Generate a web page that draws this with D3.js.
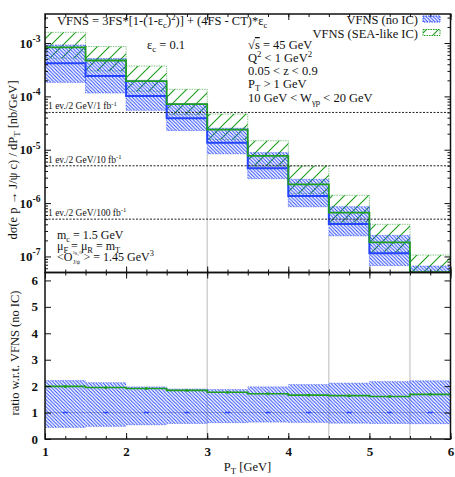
<!DOCTYPE html>
<html>
<head>
<meta charset="utf-8">
<script src="https://cdn.jsdelivr.net/npm/d3@7"></script>
<style>
  body { margin: 0; background: #fff; }
  text { font-family: "Liberation Serif", "DejaVu Serif", serif; fill: #111; }
</style>
</head>
<body>
<div id="chart"></div>
<script>
// P_T bins [GeV]
const binLo = [1, 1.5, 2, 2.5, 3, 3.5, 4, 4.5, 5, 5.5];
const binHi = [1.5, 2, 2.5, 3, 3.5, 4, 4.5, 5, 5.5, 6];

// VFNS (no IC), central value and scale band [nb/GeV]
const noIC     = [4.16e-4, 2.41e-4, 1.015e-4, 3.88e-5, 1.353e-5, 4.48e-6, 1.356e-6, 4.05e-7, 1.143e-7, 3.0e-8];
const noICLow  = [1.83e-4, 1.157e-4, 5.48e-5, 2.29e-5, 8.39e-6, 2.87e-6, 8.54e-7, 2.43e-7, 6.74e-8, 1.74e-8];
const noICHigh = [9.19e-4, 5.13e-4, 2.0e-4, 7.33e-5, 2.53e-5, 8.83e-6, 2.79e-6, 8.55e-7, 2.48e-7, 6.6e-8];

// VFNS (SEA-like IC)
const seaIC     = [8.28e-4, 4.70e-4, 1.94e-4, 7.14e-5, 2.39e-5, 7.66e-6, 2.25e-6, 6.64e-7, 1.84e-7, 5.07e-8];
const seaICLow  = [5.2e-4, 3.0e-4, 1.25e-4, 4.6e-5, 1.55e-5, 5.0e-6, 1.5e-6, 4.4e-7, 1.2e-7, 3.3e-8];
const seaICHigh = [1.587e-3, 8.6e-4, 3.71e-4, 1.356e-4, 4.67e-5, 1.475e-5, 4.95e-6, 1.40e-6, 4.0e-7, 1.062e-7];

// 1 event / 2 GeV lines
const lumiValues = [5e-5, 5e-6, 5e-7];
const lumiLabels = ["1 ev./2 GeV/1 fb", "1 ev./2 GeV/10 fb", "1 ev./2 GeV/100 fb"];

// grey vertical markers
const markerPT = [3, 4.5, 5.5];

const xTicks = [1, 2, 3, 4, 5, 6];
const decades = [-7, -6, -5, -4, -3];
const ratioTicks = [0, 1, 2, 3, 4, 5, 6];

const W = 455, H = 477;
const left = 45, right = 450.5;
const topY = 14, midY = 272.5, botY = 439;

const blue = "#2444ff", green = "#1f9f1f";

const svg = d3.select("#chart").append("svg")
    .attr("width", W).attr("height", H);

const defs = svg.append("defs");

// hatch patterns
defs.append("pattern").attr("id", "hatchBlue")
    .attr("patternUnits", "userSpaceOnUse").attr("width", 3.5).attr("height", 3.5)
  .append("path")
    .attr("d", "M-1,-1 L4.5,4.5 M-1,2.5 L1,4.5 M2.5,-1 L4.5,1")
    .attr("stroke", blue).attr("stroke-width", 1);

defs.append("pattern").attr("id", "hatchGreen")
    .attr("patternUnits", "userSpaceOnUse").attr("width", 12).attr("height", 12)
  .append("path")
    .attr("d", "M-3,15 L15,-3 M-3,3 L3,-3 M9,15 L15,9")
    .attr("stroke", green).attr("stroke-width", 1.15);

defs.append("clipPath").attr("id", "clipTop")
  .append("rect").attr("x", left).attr("y", topY).attr("width", right - left).attr("height", midY - topY);
defs.append("clipPath").attr("id", "clipBot")
  .append("rect").attr("x", left).attr("y", midY).attr("width", right - left).attr("height", botY - midY);

// scales
const x = d3.scaleLinear().domain([1, 6]).range([left, right]);
const y = d3.scaleLog().domain([5e-8, 3.5e-3]).range([midY, topY]);
const yr = d3.scaleLinear().domain([0, 6.3]).range([botY, midY]);

const bins = binLo.map((lo, i) => ({
    lo: lo, hi: binHi[i],
    c: noIC[i], cLo: noICLow[i], cHi: noICHigh[i],
    s: seaIC[i], sLo: seaICLow[i], sHi: seaICHigh[i]
}));

// ---------- top panel ----------
const topPanel = svg.append("g").attr("clip-path", "url(#clipTop)");

// grey markers start below the lower of the two neighbouring boxes
markerPT.forEach(p => {
    const near = bins.filter(b => b.lo === p || b.hi === p);
    const yStart = d3.max(near, b => y(b.cLo));
    topPanel.append("line")
        .attr("x1", x(p)).attr("x2", x(p))
        .attr("y1", yStart).attr("y2", midY)
        .attr("stroke", "#bbb").attr("stroke-width", 1);
});

topPanel.selectAll("rect.sea").data(bins).join("rect")
    .attr("class", "sea")
    .attr("x", d => x(d.lo)).attr("width", d => x(d.hi) - x(d.lo))
    .attr("y", d => y(d.sHi)).attr("height", d => y(d.sLo) - y(d.sHi))
    .attr("fill", "url(#hatchGreen)")
    .attr("stroke", green).attr("stroke-opacity", 0.55)
    .attr("stroke-width", 1).attr("stroke-dasharray", "1.5,1");

topPanel.selectAll("rect.noic").data(bins).join("rect")
    .attr("class", "noic")
    .attr("x", d => x(d.lo)).attr("width", d => x(d.hi) - x(d.lo))
    .attr("y", d => y(d.cHi)).attr("height", d => y(d.cLo) - y(d.cHi))
    .attr("fill", "url(#hatchBlue)")
    .attr("stroke", blue).attr("stroke-opacity", 0.55)
    .attr("stroke-width", 1).attr("stroke-dasharray", "1.5,1");

function steps(vals) {
    const pts = binLo.map((lo, i) => [lo, vals[i]]);
    pts.push([binHi[binHi.length - 1], vals[vals.length - 1]]);
    return pts;
}

const stepTop = d3.line().curve(d3.curveStepAfter)
    .x(d => x(d[0])).y(d => y(d[1]));

topPanel.append("path").attr("d", stepTop(steps(noIC)))
    .attr("fill", "none").attr("stroke", blue).attr("stroke-width", 2);
topPanel.append("path").attr("d", stepTop(steps(seaIC)))
    .attr("fill", "none").attr("stroke", green).attr("stroke-width", 1.8);

// ---------- rich text helper (sub / superscripts) ----------
// parts: [text, kind] with kind "" | "sub" | "sup"
function rich(x0, y0, parts, opts) {
    opts = opts || {};
    const size = opts.size || 12.5;
    const t = svg.append("text").attr("font-size", size);
    if (opts.transform) t.attr("transform", opts.transform);
    else t.attr("x", x0).attr("y", y0);
    if (opts.anchor) t.attr("text-anchor", opts.anchor);
    let off = 0;
    parts.forEach(([s, kind]) => {
        const target = kind === "sub" ? size * 0.25 : kind === "sup" ? -size * 0.4 : 0;
        const ts = t.append("tspan").attr("dy", target - off).text(s);
        if (kind) ts.attr("font-size", size * 0.7);
        off = target;
    });
    return t;
}

// luminosity lines
lumiValues.forEach((v, i) => {
    topPanel.append("line")
        .attr("x1", left).attr("x2", right)
        .attr("y1", y(v)).attr("y2", y(v))
        .attr("stroke", "#222").attr("stroke-width", 1).attr("stroke-dasharray", "2,1.5");
    rich(48, y(v) - 3, [[lumiLabels[i], ""], ["-1", "sup"]], { size: 9.5 });
});

// ---------- bottom panel ----------
const botPanel = svg.append("g").attr("clip-path", "url(#clipBot)");

markerPT.forEach(p => {
    botPanel.append("line")
        .attr("x1", x(p)).attr("x2", x(p))
        .attr("y1", midY).attr("y2", botY)
        .attr("stroke", "#bbb").attr("stroke-width", 1);
});

botPanel.append("line")
    .attr("x1", left).attr("x2", right)
    .attr("y1", yr(1)).attr("y2", yr(1))
    .attr("stroke", "#bbb").attr("stroke-width", 1);

botPanel.selectAll("rect.band").data(bins).join("rect")
    .attr("class", "band")
    .attr("x", d => x(d.lo)).attr("width", d => x(d.hi) - x(d.lo))
    .attr("y", d => yr(d.cHi / d.c)).attr("height", d => yr(d.cLo / d.c) - yr(d.cHi / d.c))
    .attr("fill", "url(#hatchBlue)");

bins.forEach(d => {
    [d.cHi / d.c, d.cLo / d.c].forEach(r => {
        botPanel.append("line")
            .attr("x1", x(d.lo)).attr("x2", x(d.hi))
            .attr("y1", yr(r)).attr("y2", yr(r))
            .attr("stroke", blue).attr("stroke-opacity", 0.55)
            .attr("stroke-dasharray", "1.5,1");
    });
});

const stepBot = d3.line().curve(d3.curveStepAfter)
    .x(d => x(d[0])).y(d => yr(d[1]));

botPanel.append("path").attr("d", stepBot(steps(seaIC.map((v, i) => v / noIC[i]))))
    .attr("fill", "none").attr("stroke", green).attr("stroke-width", 1.6);

botPanel.selectAll("line.cen").data(bins).join("line")
    .attr("class", "cen")
    .attr("x1", d => x((d.lo + d.hi) / 2) - 2.5).attr("x2", d => x((d.lo + d.hi) / 2) + 2.5)
    .attr("y1", yr(1)).attr("y2", yr(1))
    .attr("stroke", blue).attr("stroke-width", 1.5);

botPanel.selectAll("circle.sea").data(bins).join("circle")
    .attr("class", "sea")
    .attr("cx", d => x((d.lo + d.hi) / 2)).attr("cy", d => yr(d.s / d.c))
    .attr("r", 1.5).attr("fill", green);

// ---------- axes ----------
function noDomain(g) { g.select(".domain").remove(); g.selectAll("line").attr("stroke", "#111"); }

const minorX = d3.range(1, 6.01, 0.25);

[[midY, d3.axisBottom], [topY, d3.axisTop], [botY, d3.axisBottom], [midY, d3.axisTop]].forEach(([yy, ax]) => {
    svg.append("g").attr("transform", `translate(0,${yy})`)
        .call(ax(x).tickValues(minorX).tickSize(-3).tickFormat(""))
        .call(noDomain);
    svg.append("g").attr("transform", `translate(0,${yy})`)
        .call(ax(x).tickValues(xTicks).tickSize(-6).tickFormat(""))
        .call(noDomain);
});

svg.append("g").attr("transform", `translate(0,${botY})`)
    .call(d3.axisBottom(x).tickValues(xTicks).tickSize(0).tickPadding(8).tickFormat(d3.format("d")))
    .call(g => g.select(".domain").remove())
    .call(g => g.selectAll("text").attr("font-size", 13).attr("font-weight", "bold")
        .attr("font-family", "Liberation Serif").attr("fill", "#111"));

// log axis ticks
const decadeVals = decades.map(k => Math.pow(10, k));
const minorLog = [];
d3.range(-8, -2).forEach(k => {
    d3.range(2, 10).forEach(m => {
        const v = m * Math.pow(10, k);
        if (v > 5e-8 && v < 3.5e-3) minorLog.push(v);
    });
});

[[left, d3.axisLeft], [right, d3.axisRight]].forEach(([xx, ax]) => {
    svg.append("g").attr("transform", `translate(${xx},0)`)
        .call(ax(y).tickValues(minorLog).tickSize(-3).tickFormat(""))
        .call(noDomain);
    svg.append("g").attr("transform", `translate(${xx},0)`)
        .call(ax(y).tickValues(decadeVals).tickSize(-6).tickFormat(""))
        .call(noDomain);
    svg.append("g").attr("transform", `translate(${xx},0)`)
        .call(ax(yr).tickValues(ratioTicks).tickSize(-6).tickFormat(""))
        .call(noDomain);
});

decades.forEach(k => {
    const t = svg.append("text")
        .attr("x", 40.5).attr("y", y(Math.pow(10, k)) + 4.5)
        .attr("text-anchor", "end").attr("font-size", 13).attr("font-weight", "bold")
        .text("10");
    t.append("tspan").attr("dy", -5.5).attr("font-size", 9.5).text(String(k));
});

ratioTicks.forEach(r => {
    svg.append("text")
        .attr("x", 38).attr("y", yr(r) + 4.5)
        .attr("text-anchor", "end").attr("font-size", 13).attr("font-weight", "bold")
        .text(r);
});

// frames
[[topY, midY], [midY, botY]].forEach(([a, b]) => {
    svg.append("rect")
        .attr("x", left).attr("y", a).attr("width", right - left).attr("height", b - a)
        .attr("fill", "none").attr("stroke", "#111").attr("stroke-width", 1.5);
});

// ---------- texts ----------
rich(57, 25, [["VFNS = 3FS*[1-(1-ε", ""], ["c", "sub"], [")", ""], ["2", "sup"],
              [")] + (4FS - CT)*ε", ""], ["c", "sub"]]);

rich(147, 49, [["ε", ""], ["c", "sub"], [" = 0.1", ""]]);

// legend
svg.append("text").attr("x", 418).attr("y", 24).attr("font-size", 12.5)
    .attr("text-anchor", "end").text("VFNS (no IC)");
svg.append("text").attr("x", 418).attr("y", 37.5).attr("font-size", 12.5)
    .attr("text-anchor", "end").text("VFNS (SEA-like IC)");
svg.append("rect").attr("x", 423).attr("y", 16).attr("width", 17).attr("height", 6)
    .attr("fill", "url(#hatchBlue)").attr("stroke", blue).attr("stroke-dasharray", "1.5,1");
svg.append("rect").attr("x", 423).attr("y", 29.5).attr("width", 17).attr("height", 6)
    .attr("fill", "url(#hatchGreen)").attr("stroke", green).attr("stroke-dasharray", "1.5,1");

// kinematics
let t = svg.append("text").attr("x", 248).attr("y", 49).attr("font-size", 12.5).text("√");
t.append("tspan").attr("text-decoration", "overline").text("s");
t.append("tspan").text(" = 45 GeV");

rich(248, 61.5, [["Q", ""], ["2", "sup"], [" < 1 GeV", ""], ["2", "sup"]]);
rich(248, 75, [["0.05 < z < 0.9", ""]]);
rich(248, 88, [["P", ""], ["T", "sub"], [" > 1 GeV", ""]]);
rich(248, 101.5, [["10 GeV < W", ""], ["γp", "sub"], [" < 20 GeV", ""]]);

// parameters
rich(57, 239, [["m", ""], ["c", "sub"], [" = 1.5 GeV", ""]], { size: 12 });
rich(57, 250, [["μ", ""], ["F", "sub"], [" = μ", ""], ["R", "sub"], [" = m", ""], ["T", "sub"]], { size: 12 });

const oT = rich(57, 261, [["<O", ""]], { size: 12 });
const oW = oT.node().getComputedTextLength();
svg.append("text").attr("x", 57 + oW + 0.5).attr("y", 255).attr("font-size", 5).attr("fill", "#999").text("³S₁⁽¹⁾");
svg.append("text").attr("x", 57 + oW + 0.5).attr("y", 264).attr("font-size", 5.5).attr("fill", "#999").text("J/ψ");
rich(57 + oW + 11, 261, [["> = 1.45 GeV", ""], ["3", "sup"]], { size: 12 });

// axis titles
rich(0, 0, [["dσ(e p → J/ψ c) / dP", ""], ["T", "sub"], [" [nb/GeV]", ""]],
     { transform: "translate(17,160) rotate(-90)", anchor: "middle" });

svg.append("text").attr("transform", "translate(19,353) rotate(-90)")
    .attr("text-anchor", "middle").attr("font-size", 12.5).text("ratio w.r.t. VFNS (no IC)");

rich(247.5, 471, [["P", ""], ["T", "sub"], [" [GeV]", ""]], { anchor: "middle" });
</script>
</body>
</html>
